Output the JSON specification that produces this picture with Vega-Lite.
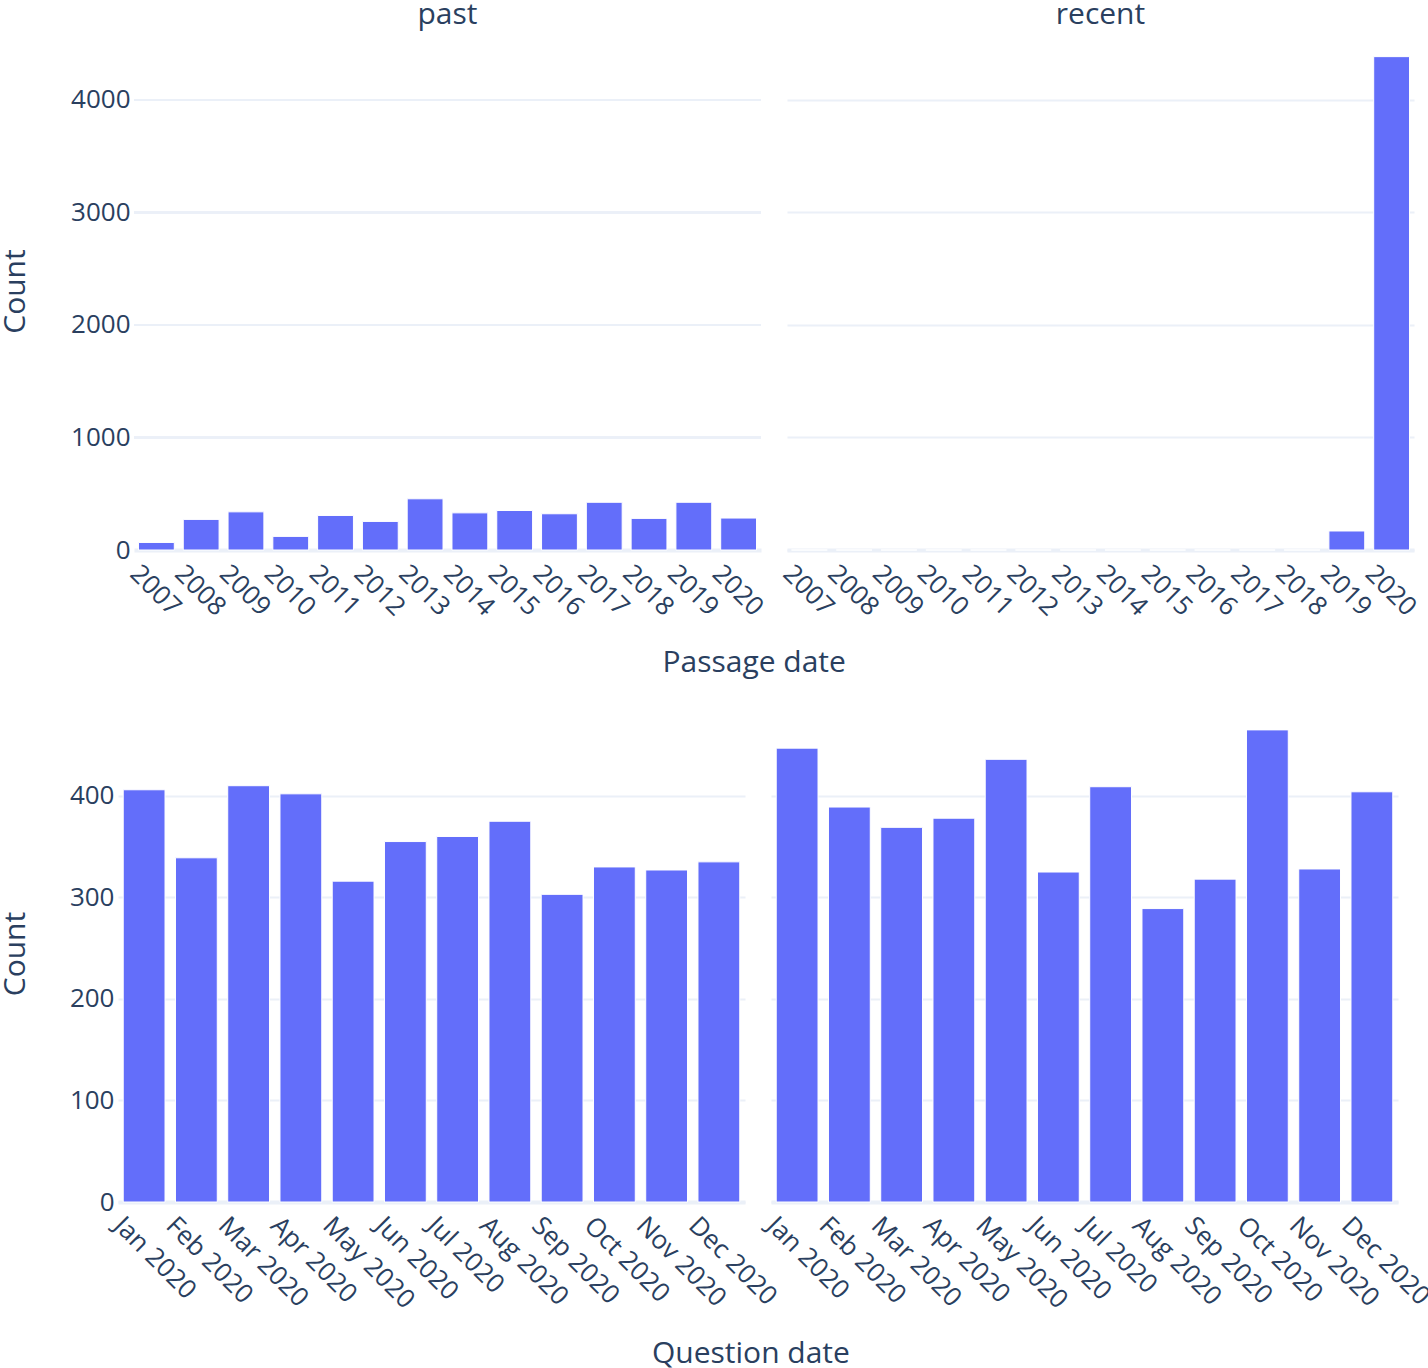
{
  "$schema": "https://vega.github.io/schema/vega-lite/v6.json",
  "background": "white",
  "padding": 0,
  "autosize": {"type": "pad"},
  "config": {
    "font": "Open Sans",
    "view": {"stroke": null},
    "axis": {
      "labelFont": "Open Sans", "titleFont": "Open Sans",
      "labelColor": "#2a3f5f", "titleColor": "#2a3f5f",
      "labelFontSize": 26, "titleFontSize": 30, "titleFontWeight": "normal",
      "gridColor": "#EBF0F8", "ticks": false, "labelOverlap": false
    },
    "title": {"font": "Open Sans", "color": "#2a3f5f", "fontWeight": "normal", "fontSize": 30},
    "bar": {"color": "#636efa", "stroke": "white", "strokeWidth": 1}
  },
  "datasets": {
    "passage": [
      {"group": "past", "year": "2007", "count": 67},
      {"group": "past", "year": "2008", "count": 272},
      {"group": "past", "year": "2009", "count": 339},
      {"group": "past", "year": "2010", "count": 121},
      {"group": "past", "year": "2011", "count": 307},
      {"group": "past", "year": "2012", "count": 254},
      {"group": "past", "year": "2013", "count": 455},
      {"group": "past", "year": "2014", "count": 330},
      {"group": "past", "year": "2015", "count": 351},
      {"group": "past", "year": "2016", "count": 322},
      {"group": "past", "year": "2017", "count": 424},
      {"group": "past", "year": "2018", "count": 281},
      {"group": "past", "year": "2019", "count": 424},
      {"group": "past", "year": "2020", "count": 284},
      {"group": "recent", "year": "2007", "count": 0},
      {"group": "recent", "year": "2008", "count": 0},
      {"group": "recent", "year": "2009", "count": 0},
      {"group": "recent", "year": "2010", "count": 0},
      {"group": "recent", "year": "2011", "count": 0},
      {"group": "recent", "year": "2012", "count": 0},
      {"group": "recent", "year": "2013", "count": 0},
      {"group": "recent", "year": "2014", "count": 0},
      {"group": "recent", "year": "2015", "count": 0},
      {"group": "recent", "year": "2016", "count": 0},
      {"group": "recent", "year": "2017", "count": 0},
      {"group": "recent", "year": "2018", "count": 0},
      {"group": "recent", "year": "2019", "count": 169},
      {"group": "recent", "year": "2020", "count": 4385}
    ],
    "question": [
      {"group": "past", "month": "Jan 2020", "count": 406},
      {"group": "past", "month": "Feb 2020", "count": 339},
      {"group": "past", "month": "Mar 2020", "count": 410},
      {"group": "past", "month": "Apr 2020", "count": 402},
      {"group": "past", "month": "May 2020", "count": 316},
      {"group": "past", "month": "Jun 2020", "count": 355},
      {"group": "past", "month": "Jul 2020", "count": 360},
      {"group": "past", "month": "Aug 2020", "count": 375},
      {"group": "past", "month": "Sep 2020", "count": 303},
      {"group": "past", "month": "Oct 2020", "count": 330},
      {"group": "past", "month": "Nov 2020", "count": 327},
      {"group": "past", "month": "Dec 2020", "count": 335},
      {"group": "recent", "month": "Jan 2020", "count": 447},
      {"group": "recent", "month": "Feb 2020", "count": 389},
      {"group": "recent", "month": "Mar 2020", "count": 369},
      {"group": "recent", "month": "Apr 2020", "count": 378},
      {"group": "recent", "month": "May 2020", "count": 436},
      {"group": "recent", "month": "Jun 2020", "count": 325},
      {"group": "recent", "month": "Jul 2020", "count": 409},
      {"group": "recent", "month": "Aug 2020", "count": 289},
      {"group": "recent", "month": "Sep 2020", "count": 318},
      {"group": "recent", "month": "Oct 2020", "count": 465},
      {"group": "recent", "month": "Nov 2020", "count": 328},
      {"group": "recent", "month": "Dec 2020", "count": 404}
    ]
  },
  "spacing": 26,
  "vconcat": [
    {
      "spacing": 26,
      "bounds": "flush",
      "title": {"text": "Passage date", "orient": "bottom", "anchor": "middle", "offset": 28, "fontSize": 30, "dx": 44},
      "hconcat": [
        {
          "width": 643, "height": 518,
          "title": {"text": "past", "offset": 2, "frame": "group", "fontSize": 30, "dx": 8},
          "data": {"name": "passage"},
          "transform": [{"filter": "datum.group === 'past'"}],
          "encoding": {
            "x": {"field": "year", "type": "nominal", "sort": null,
              "scale": {"domain": ["2007", "2008", "2009", "2010", "2011", "2012", "2013", "2014", "2015", "2016", "2017", "2018", "2019", "2020"], "paddingInner": 0.2, "paddingOuter": 0.1, "range": [16, 643]},
              "axis": {"title": null, "labelOffset": -22, "labelAngle": 45, "labelAlign": "left", "labelBaseline": "middle", "labelPadding": 19, "domainColor": "#EBF0F8", "domainWidth": 4, "grid": false}},
            "y": {"field": "count", "type": "quantitative",
              "scale": {"domain": [0, 4604], "nice": false},
              "axis": {"title": "Count", "values": [0, 1000, 2000, 3000, 4000], "format": "d", "labelPadding": 4, "offset": -16, "domain": false, "grid": false, "titleX": -104, "titleBaseline": "bottom", "titleAngle": 270}}
          },
          "layer": [
            {"mark": {"type": "rule", "color": "#EBF0F8", "strokeWidth": 2},
             "encoding": {"x": {"datum": "2007", "type": "nominal", "bandPosition": -0.125}, "x2": {"datum": "2020", "bandPosition": 1.125}, "y": {"datum": 1000, "type": "quantitative"}}},
            {"mark": {"type": "rule", "color": "#EBF0F8", "strokeWidth": 2},
             "encoding": {"x": {"datum": "2007", "type": "nominal", "bandPosition": -0.125}, "x2": {"datum": "2020", "bandPosition": 1.125}, "y": {"datum": 2000, "type": "quantitative"}}},
            {"mark": {"type": "rule", "color": "#EBF0F8", "strokeWidth": 2},
             "encoding": {"x": {"datum": "2007", "type": "nominal", "bandPosition": -0.125}, "x2": {"datum": "2020", "bandPosition": 1.125}, "y": {"datum": 3000, "type": "quantitative"}}},
            {"mark": {"type": "rule", "color": "#EBF0F8", "strokeWidth": 2},
             "encoding": {"x": {"datum": "2007", "type": "nominal", "bandPosition": -0.125}, "x2": {"datum": "2020", "bandPosition": 1.125}, "y": {"datum": 4000, "type": "quantitative"}}},
            {"mark": {"type": "bar"}}
          ]
        },
        {
          "width": 627, "height": 518,
          "title": {"text": "recent", "offset": 2, "frame": "group", "fontSize": 30},
          "data": {"name": "passage"},
          "transform": [{"filter": "datum.group === 'recent'"}],
          "mark": {"type": "bar"},
          "encoding": {
            "x": {"field": "year", "type": "nominal", "sort": null,
              "scale": {"paddingInner": 0.2, "paddingOuter": 0.1},
              "axis": {"title": null, "labelOffset": -22, "labelAngle": 45, "labelAlign": "left", "labelBaseline": "middle", "labelPadding": 19, "domainColor": "#EBF0F8", "domainWidth": 4, "grid": false}},
            "y": {"field": "count", "type": "quantitative",
              "scale": {"domain": [0, 4604], "nice": false},
              "axis": {"title": null, "values": [0, 1000, 2000, 3000, 4000], "labels": false, "domain": false, "gridWidth": 2}}
          }
        }
      ]
    },
    {
      "spacing": 26,
      "bounds": "flush",
      "title": {"text": "Question date", "orient": "bottom", "anchor": "middle", "offset": 26, "fontSize": 30, "dx": 34},
      "hconcat": [
        {
          "width": 627, "height": 497,
          "data": {"name": "question"},
          "transform": [{"filter": "datum.group === 'past'"}],
          "mark": {"type": "bar"},
          "encoding": {
            "x": {"field": "month", "type": "nominal", "sort": null,
              "scale": {"paddingInner": 0.2, "paddingOuter": 0.1},
              "axis": {"title": null, "labelOffset": -26, "labelAngle": 45, "labelAlign": "left", "labelBaseline": "middle", "labelPadding": 19, "domainColor": "#EBF0F8", "domainWidth": 4, "grid": false}},
            "y": {"field": "count", "type": "quantitative",
              "scale": {"domain": [0, 489.5], "nice": false},
              "axis": {"title": "Count", "values": [0, 100, 200, 300, 400], "format": "d", "labelPadding": 4, "domain": false, "gridWidth": 2, "titleX": -88, "titleBaseline": "bottom", "titleAngle": 270}}
          }
        },
        {
          "width": 627, "height": 497,
          "data": {"name": "question"},
          "transform": [{"filter": "datum.group === 'recent'"}],
          "mark": {"type": "bar"},
          "encoding": {
            "x": {"field": "month", "type": "nominal", "sort": null,
              "scale": {"paddingInner": 0.2, "paddingOuter": 0.1},
              "axis": {"title": null, "labelOffset": -26, "labelAngle": 45, "labelAlign": "left", "labelBaseline": "middle", "labelPadding": 19, "domainColor": "#EBF0F8", "domainWidth": 4, "grid": false}},
            "y": {"field": "count", "type": "quantitative",
              "scale": {"domain": [0, 489.5], "nice": false},
              "axis": {"title": null, "values": [0, 100, 200, 300, 400], "labels": false, "domain": false, "gridWidth": 2}}
          }
        }
      ]
    }
  ]
}
